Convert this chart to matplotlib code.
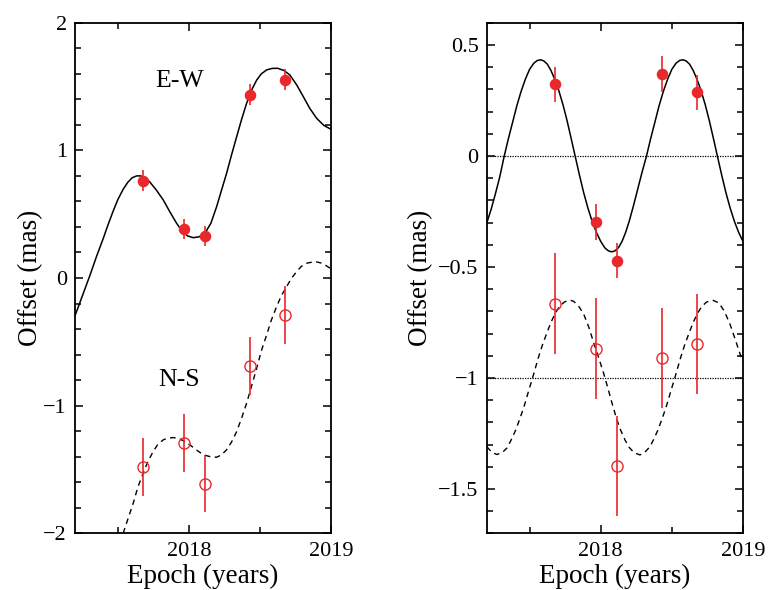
import matplotlib
matplotlib.use("Agg")
import matplotlib.pyplot as plt
from matplotlib.ticker import MultipleLocator, FuncFormatter

# ---- data ----
epochs = [2017.68, 2017.965, 2018.115, 2018.43, 2018.675]

# Left panel (with proper motion)
ew_total = [0.763, 0.382, 0.330, 1.436, 1.554]
ns_total = [-1.479, -1.291, -1.610, -0.688, -0.291]
# Right panel (parallax only)
ew_par = [0.322, -0.297, -0.472, 0.370, 0.286]
ns_par = [-0.666, -0.868, -1.397, -0.910, -0.847]

ew_err = [0.08, 0.08, 0.08, 0.08, 0.08]
ns_err = [0.227, 0.227, 0.227, 0.227, 0.227]

# model curves
ew_total_t = [2017.20, 2017.25, 2017.303, 2017.35, 2017.397, 2017.43, 2017.467, 2017.50, 2017.537, 2017.57,
              2017.60, 2017.632, 2017.66, 2017.69, 2017.725, 2017.77, 2017.819, 2017.865, 2017.913, 2017.95,
              2017.99, 2018.03, 2018.07, 2018.113, 2018.155, 2018.195, 2018.23, 2018.265, 2018.30, 2018.336,
              2018.37, 2018.406, 2018.44, 2018.477, 2018.51, 2018.547, 2018.585, 2018.625, 2018.67, 2018.711,
              2018.76, 2018.805, 2018.85, 2018.899, 2018.95, 2019.0]
ew_total_v = [-0.29, -0.14, 0.02, 0.17, 0.31, 0.415, 0.525, 0.615, 0.695, 0.75,
              0.785, 0.80, 0.80, 0.785, 0.752, 0.69, 0.612, 0.52, 0.429, 0.37,
              0.33, 0.316, 0.322, 0.351, 0.43, 0.559, 0.69, 0.820, 0.965, 1.107,
              1.24, 1.369, 1.47, 1.551, 1.60, 1.630, 1.642, 1.643, 1.625, 1.590,
              1.51, 1.421, 1.33, 1.251, 1.195, 1.165]

ns_total_t = [2017.537, 2017.57, 2017.608, 2017.64, 2017.678, 2017.71, 2017.749, 2017.78, 2017.819, 2017.85,
              2017.889, 2017.93, 2017.972, 2018.01, 2018.05, 2018.101, 2018.148, 2018.195, 2018.23, 2018.265,
              2018.30, 2018.336, 2018.37, 2018.406, 2018.44, 2018.477, 2018.51, 2018.547, 2018.58, 2018.617,
              2018.65, 2018.688, 2018.72, 2018.758, 2018.79, 2018.829, 2018.887, 2018.94, 2018.993]
ns_total_v = [-2.0, -1.89, -1.764, -1.64, -1.529, -1.44, -1.359, -1.305, -1.268, -1.255,
              -1.250, -1.258, -1.281, -1.31, -1.345, -1.385, -1.399, -1.404, -1.385, -1.346,
              -1.285, -1.203, -1.10, -0.981, -0.85, -0.706, -0.57, -0.446, -0.33, -0.224,
              -0.14, -0.067, -0.005, 0.050, 0.09, 0.116, 0.129, 0.115, 0.077]

ew_par_t = [2017.20, 2017.23, 2017.26, 2017.29, 2017.322, 2017.35, 2017.38, 2017.41, 2017.44, 2017.47,
            2017.50, 2017.53, 2017.555, 2017.578, 2017.60, 2017.625, 2017.65, 2017.675, 2017.705, 2017.735,
            2017.763, 2017.79, 2017.82, 2017.85, 2017.88, 2017.91, 2017.94, 2017.97, 2018.00, 2018.03,
            2018.055, 2018.078, 2018.10, 2018.125, 2018.15, 2018.175, 2018.20, 2018.23, 2018.26, 2018.29,
            2018.322, 2018.35, 2018.38, 2018.41, 2018.44, 2018.47, 2018.50, 2018.53, 2018.555, 2018.578,
            2018.60, 2018.625, 2018.65, 2018.675, 2018.705, 2018.735, 2018.763, 2018.79, 2018.82, 2018.85,
            2018.88, 2018.91, 2018.94, 2018.97, 2019.00]
ew_par_v = [-0.30, -0.24, -0.17, -0.095, 0.0, 0.075, 0.15, 0.225, 0.29, 0.345,
            0.39, 0.418, 0.43, 0.433, 0.428, 0.413, 0.385, 0.348, 0.295, 0.23,
            0.16, 0.085, 0.0, -0.085, -0.165, -0.235, -0.295, -0.345, -0.385, -0.415,
            -0.428, -0.432, -0.428, -0.413, -0.385, -0.345, -0.295, -0.225, -0.15, -0.075,
            0.0, 0.075, 0.15, 0.225, 0.29, 0.345, 0.39, 0.418, 0.43, 0.433,
            0.428, 0.413, 0.385, 0.348, 0.295, 0.23, 0.16, 0.085, 0.0, -0.085,
            -0.165, -0.235, -0.295, -0.345, -0.385]

ns_par_t = [2017.20, 2017.235, 2017.271, 2017.31, 2017.342, 2017.37, 2017.40, 2017.43, 2017.46, 2017.495,
            2017.53, 2017.56, 2017.59, 2017.62, 2017.65, 2017.68, 2017.71, 2017.745, 2017.779, 2017.81,
            2017.845, 2017.88, 2017.916, 2017.95, 2017.986, 2018.02, 2018.05, 2018.08, 2018.112, 2018.14,
            2018.171, 2018.20, 2018.235, 2018.276, 2018.31, 2018.346, 2018.37, 2018.40, 2018.43, 2018.46,
            2018.495, 2018.53, 2018.56, 2018.59, 2018.62, 2018.65, 2018.68, 2018.71, 2018.745, 2018.791,
            2018.83, 2018.87, 2018.91, 2018.95, 2018.99, 2019.00]
ns_par_v = [-1.31, -1.336, -1.345, -1.335, -1.315, -1.28, -1.238, -1.187, -1.131, -1.055,
            -0.98, -0.912, -0.852, -0.80, -0.75, -0.71, -0.678, -0.658, -0.649, -0.655,
            -0.677, -0.712, -0.771, -0.84, -0.91, -0.978, -1.045, -1.115, -1.185, -1.235,
            -1.28, -1.313, -1.337, -1.347, -1.335, -1.31, -1.28, -1.238, -1.187, -1.131,
            -1.055, -0.98, -0.912, -0.852, -0.80, -0.75, -0.71, -0.678, -0.658, -0.651,
            -0.662, -0.70, -0.76, -0.835, -0.912, -0.93]

xlim = (2017.2, 2019.0)
left_ylim = (-2, 2)
right_ylim = (-1.7, 0.6)

RED = '#e8282b'
SERIF = ['Liberation Serif', 'DejaVu Serif']

plt.rcParams['font.family'] = SERIF

fig = plt.figure(figsize=(7.68, 5.90), dpi=100)
axL = fig.add_axes([0.098, 0.0961, 0.333, 0.8654])
axR = fig.add_axes([0.634, 0.0961, 0.3334, 0.8654])


def fmt(v, pos):
    s = f"{v:g}"
    return s.replace('-', '\u2212')


def style(ax, ylim, ymajor, yminor, ylabelpad):
    ax.set_xlim(*xlim)
    ax.set_ylim(*ylim)
    ax.xaxis.set_major_locator(MultipleLocator(1))
    ax.xaxis.set_minor_locator(MultipleLocator(0.5))
    ax.yaxis.set_major_locator(MultipleLocator(ymajor))
    ax.yaxis.set_minor_locator(MultipleLocator(yminor))
    ax.xaxis.set_major_formatter(FuncFormatter(fmt))
    ax.yaxis.set_major_formatter(FuncFormatter(fmt))
    ax.tick_params(which='both', direction='in', top=True, right=True, width=1.1,
                   labelsize=16, colors='black')
    ax.tick_params(which='major', length=6, pad=6)
    ax.tick_params(which='minor', length=4.5)
    for sp in ax.spines.values():
        sp.set_linewidth(1.3)
    ax.set_xlabel('Epoch (years)', fontsize=19.5, labelpad=2)
    ax.set_ylabel('Offset (mas)', fontsize=19.5, labelpad=ylabelpad)


# Left panel
axL.plot(ew_total_t, ew_total_v, color='black', lw=1.1)
axL.plot(ns_total_t, ns_total_v, color='black', lw=1.0, dashes=(4, 3.2))
axL.errorbar(epochs, ew_total, yerr=ew_err, fmt='o', color=RED, ms=7.3, elinewidth=1.2,
             capsize=0, ecolor=RED, mec=RED, mfc=RED, zorder=3)
axL.errorbar(epochs, ns_total, yerr=ns_err, fmt='o', color=RED, ms=8, elinewidth=1.2,
             capsize=0, ecolor=RED, mec=RED, mfc='none', mew=1.0, zorder=3)
axL.text(2017.935, 1.54, 'E-W', fontsize=18.5, ha='center', va='center')
axL.text(2017.93, -0.80, 'N-S', fontsize=18.5, ha='center', va='center')
style(axL, left_ylim, 1, 0.2, 0)

# Right panel
axR.axhline(0, color='black', lw=0.9, ls=(0, (1, 1)))
axR.axhline(-1, color='black', lw=0.9, ls=(0, (1, 1)))
axR.plot(ew_par_t, ew_par_v, color='black', lw=1.1)
axR.plot(ns_par_t, ns_par_v, color='black', lw=1.0, dashes=(4, 3.2))
axR.errorbar(epochs, ew_par, yerr=ew_err, fmt='o', color=RED, ms=7.3, elinewidth=1.2,
             capsize=0, ecolor=RED, mec=RED, mfc=RED, zorder=3)
axR.errorbar(epochs, ns_par, yerr=ns_err, fmt='o', color=RED, ms=8, elinewidth=1.2,
             capsize=0, ecolor=RED, mec=RED, mfc='none', mew=1.0, zorder=3)
style(axR, right_ylim, 0.5, 0.1, 4)

fig.savefig('out.png', dpi=100)
